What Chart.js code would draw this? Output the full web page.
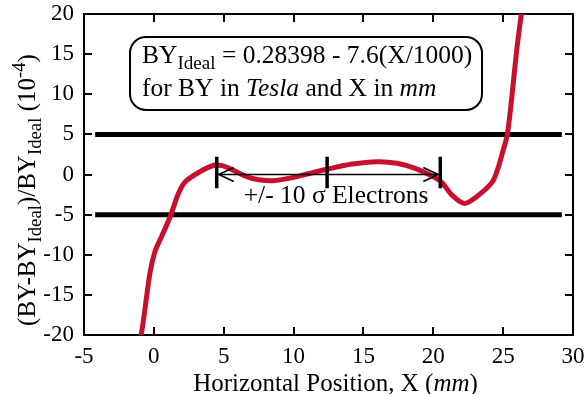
<!DOCTYPE html>
<html>
<head>
<meta charset="utf-8">
<script src="https://cdn.jsdelivr.net/npm/chart.js@4/dist/chart.umd.min.js"></script>
<style>
html, body { margin: 0; background: #fff; }
</style>
</head>
<body>
<canvas id="chart" width="584" height="394"></canvas>
<script>
// field error curve
const curveX = [-1.3, -0.87, -0.28, 0.08, 0.56, 1.16, 1.75, 2.25, 3.3, 4.3, 4.9, 5.6, 6.65, 7.5, 8.55, 9.6, 10.7, 12.4, 14.2, 16.0, 17.4, 18.8, 20.5, 21.3, 22.2, 23.0, 24.2, 24.6, 25.0, 25.3, 25.6, 25.97, 26.3, 26.5];
const curveY = [-23, -19.6, -12.3, -9.6, -7.7, -5.3, -2.4, -0.9, 0.35, 1.15, 1.1, 0.6, -0.27, -0.65, -0.77, -0.5, -0.06, 0.65, 1.3, 1.6, 1.4, 0.7, -0.8, -2.5, -3.6, -2.9, -1.0, 0.6, 3.0, 5.0, 9.3, 15.5, 20, 23];
const limitLevels = [5, -5];
const limitRange = [-4.2, 29.2];
const sigmaMarks = [4.5, 12.4, 20.5];
const sigmaSpan = [2.2, -1.7];
const xTicks = [-5, 0, 5, 10, 15, 20, 25, 30];
const yTicks = [-20, -15, -10, -5, 0, 5, 10, 15, 20];

const SERIF = '"Liberation Serif", "DejaVu Serif", serif';

function runFont(r, size) {
    const sz = (r.sub || r.sup) ? size * 0.75 : size;
    return (r.it ? 'italic ' : '') + sz + 'px ' + SERIF;
}

function runsWidth(ctx, runs, size) {
    let w = 0;
    runs.forEach(r => { ctx.font = runFont(r, size); w += ctx.measureText(r.t).width; });
    return w;
}

function drawRuns(ctx, runs, x, y, size) {
    runs.forEach(r => {
        ctx.font = runFont(r, size);
        const dy = r.sub ? size * 0.25 : (r.sup ? -size * 0.42 : 0);
        ctx.fillText(r.t, x, y + dy);
        x += ctx.measureText(r.t).width;
    });
}

// ticks pointing inwards on all four sides
const innerTicks = {
    id: 'innerTicks',
    beforeDatasetsDraw(chart) {
        const ctx = chart.ctx;
        const a = chart.chartArea;
        const xs = chart.scales.x, ys = chart.scales.y;
        ctx.save();
        ctx.fillStyle = '#000';
        xTicks.forEach(v => {
            const px = Math.round(xs.getPixelForValue(v));
            ctx.fillRect(px - 1, a.bottom - 8, 2, 8);
            ctx.fillRect(px - 1, a.top, 2, 8);
        });
        yTicks.forEach(v => {
            const py = Math.round(ys.getPixelForValue(v));
            ctx.fillRect(a.left, py - 1, 8, 2);
            ctx.fillRect(a.right - 8, py - 1, 8, 2);
        });
        ctx.restore();
    }
};

const decorations = {
    id: 'decorations',
    afterDraw(chart) {
        const ctx = chart.ctx;
        const xs = chart.scales.x, ys = chart.scales.y;
        ctx.save();
        ctx.fillStyle = '#000';
        ctx.strokeStyle = '#000';
        ctx.textBaseline = 'alphabetic';
        ctx.textAlign = 'left';

        // sigma markers and arrows
        const y0 = ys.getPixelForValue(0);
        ctx.lineWidth = 3.5;
        ctx.beginPath();
        sigmaMarks.forEach(v => {
            const px = xs.getPixelForValue(v);
            ctx.moveTo(px, ys.getPixelForValue(sigmaSpan[0]));
            ctx.lineTo(px, ys.getPixelForValue(sigmaSpan[1]));
        });
        ctx.stroke();
        const pl = xs.getPixelForValue(sigmaMarks[0]);
        const pr = xs.getPixelForValue(sigmaMarks[2]);
        ctx.lineWidth = 1.6;
        ctx.beginPath();
        ctx.moveTo(pl + 2, y0); ctx.lineTo(pr - 2, y0);
        ctx.moveTo(pl + 17, y0 - 7); ctx.lineTo(pl + 2, y0); ctx.lineTo(pl + 17, y0 + 7);
        ctx.moveTo(pr - 17, y0 - 7); ctx.lineTo(pr - 2, y0); ctx.lineTo(pr - 17, y0 + 7);
        ctx.stroke();

        const sigRuns = [{ t: '+/- 10 σ Electrons' }];
        const sw = runsWidth(ctx, sigRuns, 25.5);
        drawRuns(ctx, sigRuns, 336 - sw / 2, 203, 25.5);

        // formula box
        ctx.lineWidth = 2;
        ctx.beginPath();
        ctx.roundRect(130, 37, 352, 73, 16);
        ctx.fillStyle = '#fff';
        ctx.fill();
        ctx.stroke();
        ctx.fillStyle = '#000';
        drawRuns(ctx, [{ t: 'BY' }, { t: 'Ideal', sub: true }, { t: ' = 0.28398 - 7.6(X/1000)' }], 142, 63, 25.5);
        drawRuns(ctx, [{ t: 'for BY in ' }, { t: 'Tesla', it: true }, { t: ' and X in ' }, { t: 'mm', it: true }], 142, 96, 25.5);

        // x title
        const xt = [{ t: 'Horizontal Position, X (' }, { t: 'mm', it: true }, { t: ')' }];
        const xw = runsWidth(ctx, xt, 25);
        drawRuns(ctx, xt, 335.5 - xw / 2, 391, 25);

        // y title
        const yt = [{ t: '(BY-BY' }, { t: 'Ideal', sub: true }, { t: ')/BY' }, { t: 'Ideal', sub: true }, { t: ' (10' }, { t: '-4', sup: true }, { t: ')' }];
        const yw = runsWidth(ctx, yt, 25);
        ctx.translate(35, 190);
        ctx.rotate(-Math.PI / 2);
        drawRuns(ctx, yt, -yw / 2, 0, 25);
        ctx.restore();
    }
};

const tickFont = { family: SERIF, size: 23 };
const frameBorder = { display: true, width: 2, color: '#000' };
const hiddenGrid = { display: false, drawTicks: false };

new Chart(document.getElementById('chart'), {
    type: 'scatter',
    data: {
        datasets: [
            {
                data: curveX.map((x, i) => ({ x, y: curveY[i] })),
                showLine: true,
                borderColor: '#c8102e',
                borderWidth: 5,
                pointRadius: 0,
                tension: 0.3,
                clip: 0
            },
            ...limitLevels.map(lv => ({
                data: limitRange.map(x => ({ x, y: lv })),
                showLine: true,
                borderColor: '#000',
                borderWidth: 5,
                pointRadius: 0
            }))
        ]
    },
    options: {
        responsive: false,
        animation: false,
        devicePixelRatio: 1,
        layout: { padding: { top: 14, right: 11, left: 0, bottom: 0 } },
        plugins: { legend: { display: false }, tooltip: { enabled: false } },
        scales: {
            x: {
                type: 'linear', min: -5, max: 30,
                afterBuildTicks: s => { s.ticks = xTicks.map(v => ({ value: v })); },
                afterFit: s => { s.height = 59; s.paddingLeft = 0; s.paddingRight = 0; },
                grid: hiddenGrid,
                border: frameBorder,
                ticks: { font: tickFont, color: '#000', padding: 8, maxRotation: 0 }
            },
            y: {
                type: 'linear', min: -20, max: 20,
                afterBuildTicks: s => { s.ticks = yTicks.map(v => ({ value: v })); },
                afterFit: s => { s.width = 84; s.paddingTop = 0; s.paddingBottom = 0; },
                grid: hiddenGrid,
                border: frameBorder,
                ticks: { font: tickFont, color: '#000', padding: 10 }
            },
            x2: {
                type: 'linear', position: 'top', min: -5, max: 30,
                afterFit: s => { s.height = 0; s.paddingLeft = 0; s.paddingRight = 0; },
                grid: hiddenGrid,
                border: frameBorder,
                ticks: { display: false }
            },
            y2: {
                type: 'linear', position: 'right', min: -20, max: 20,
                afterFit: s => { s.width = 0; s.paddingTop = 0; s.paddingBottom = 0; },
                grid: hiddenGrid,
                border: frameBorder,
                ticks: { display: false }
            }
        }
    },
    plugins: [innerTicks, decorations]
});
</script>
</body>
</html>
